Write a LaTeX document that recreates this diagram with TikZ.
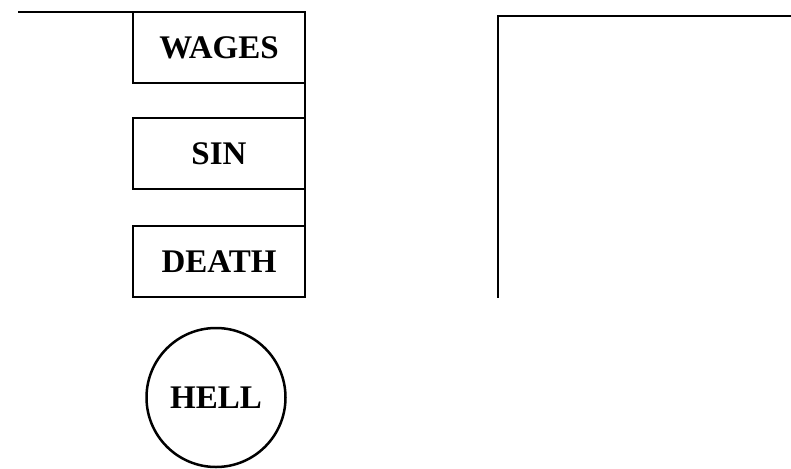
\documentclass[tikz,border=0pt]{standalone}
\usepackage{fontspec}
\setmainfont{Liberation Serif}
\begin{document}
\begin{tikzpicture}[x=1pt,y=-1pt,
  boxstyle/.style={draw,line width=2.8pt,minimum width=172pt,minimum height=71pt,inner sep=0pt,outer sep=0pt,font=\fontsize{33}{36}\selectfont\bfseries},
  circstyle/.style={draw,circle,line width=2.5pt,minimum size=139pt,inner sep=0pt,font=\fontsize{33}{36}\selectfont\bfseries},
  linestyle/.style={line width=2.8pt}]
\useasboundingbox (0,0) rectangle (791,468);
\node[boxstyle] (wages) at (219,47.5) {WAGES};
\node[boxstyle] (sin) at (219,153.5) {SIN};
\node[boxstyle] (death) at (219,261.5) {DEATH};
\node[circstyle] (hell) at (216,397.5) {HELL};
\coordinate (tl) at (18,12);
\coordinate (rt) at (791,16);
\coordinate (rc) at (498,16);
\coordinate (rb) at (498,298);
\draw[linestyle] (tl |- wages.north west) -- (wages.north west);
\draw[linestyle] (wages.north east) -- (death.south east);
\draw[linestyle] (rt) -- (rc) -- (rb);
\end{tikzpicture}
\end{document}
